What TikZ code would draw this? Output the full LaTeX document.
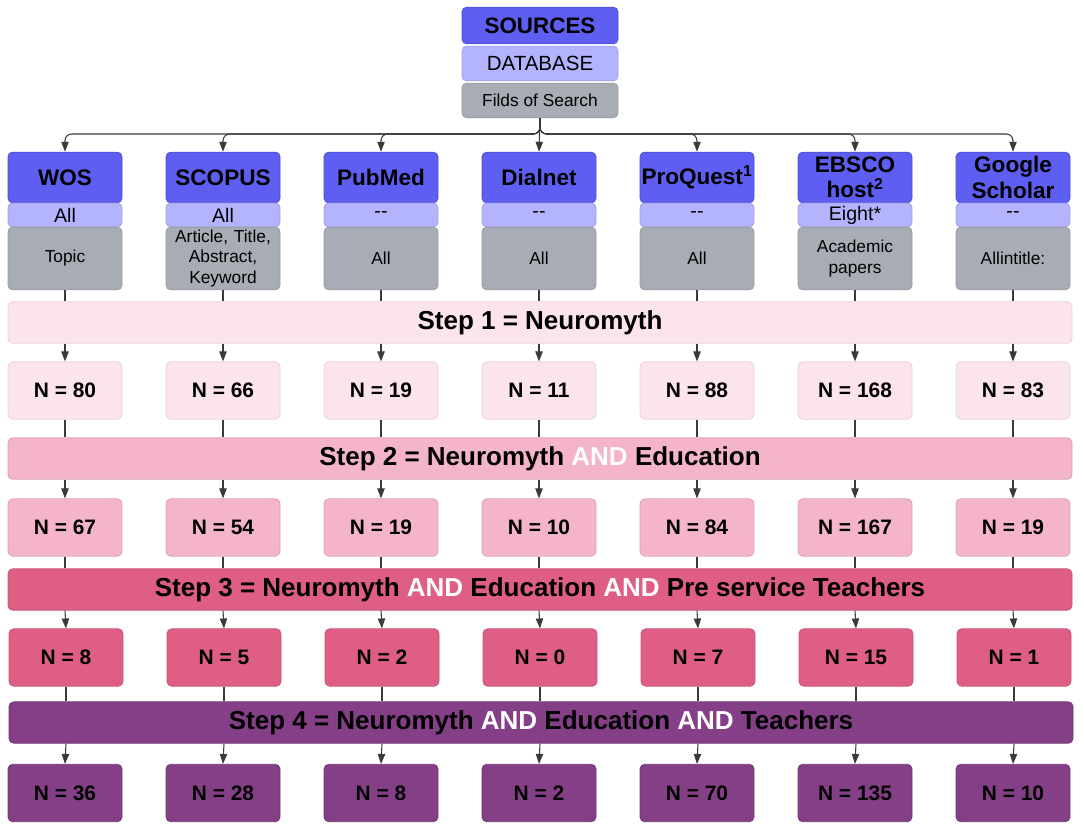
\documentclass[tikz,border=0pt]{standalone}
\usepackage{fontspec}
\setmainfont{Liberation Sans}
\usepackage{tikz}
\usetikzlibrary{arrows.meta,positioning}
\definecolor{srcblue}{HTML}{5E5EF2}
\definecolor{dbblue}{HTML}{B4B4FE}
\definecolor{fldgrey}{HTML}{A8ACB4}
\definecolor{pinkA}{HTML}{FCE4EC}
\definecolor{pinkB}{HTML}{F4B5C8}
\definecolor{roseC}{HTML}{DE5E84}
\definecolor{purpD}{HTML}{843F87}
\definecolor{linegrey}{HTML}{3A3A3A}
\newcommand{\andw}{\textcolor{white}{AND}}

\begin{document}
\begin{tikzpicture}[x=0.75pt,y=-0.75pt,>={Triangle[length=7.5pt,width=5.5pt]},semithick,
                    node distance=118.5pt,
                    every node/.style={inner sep=1pt}]
  \tikzstyle{box}=[rectangle,rounded corners=3.5pt,minimum width=85.5pt,align=center]
  \tikzstyle{head}=[box,fill=srcblue,draw=srcblue!85!black,minimum height=38pt,font=\fontsize{16.9}{19}\selectfont\bfseries]
  \tikzstyle{dbase}=[box,fill=dbblue,draw=dbblue!90!black,minimum height=18pt,font=\fontsize{14.7}{16}\selectfont]
  \tikzstyle{field}=[box,fill=fldgrey,draw=fldgrey!90!black,minimum height=47pt,text width=80pt,font=\fontsize{13}{15.5}\selectfont]
  \tikzstyle{count}=[box,minimum height=43pt,font=\fontsize{15.7}{18}\selectfont\bfseries]
  \tikzstyle{stepbar}=[rectangle,rounded corners=3.5pt,minimum width=798pt,minimum height=31pt,font=\fontsize{19.5}{22}\selectfont\bfseries]
  \tikzstyle{link}=[draw=linegrey,line width=0.8pt]

  \useasboundingbox (0,0) rectangle (1084,829);

  % sources
  \node[box,fill=srcblue,draw=srcblue!85!black,minimum width=117pt,minimum height=27.5pt,font=\fontsize{16.8}{18}\selectfont\bfseries] (src) at (540,25.5) {SOURCES};
  \node[box,fill=dbblue,draw=dbblue!90!black,minimum width=117pt,minimum height=26pt,font=\fontsize{15.4}{18}\selectfont] (db) at (540,63.5) {DATABASE};
  \node[box,fill=fldgrey,draw=fldgrey!90!black,minimum width=117pt,minimum height=26pt,font=\fontsize{13}{15}\selectfont] (fld) at (540,100.5) {Filds of Search};

  % databases
  \node[head] (wos) at (65,177.5) {WOS};
  \node[head] (sco) [right of=wos] {SCOPUS};
  \node[head] (pub) [right of=sco] {PubMed};
  \node[head] (dia) [right of=pub] {Dialnet};
  \node[head] (pro) [right of=dia] {ProQuest\textsuperscript{1}};
  \node[head] (ebs) [right of=pro] {EBSCO\\host\textsuperscript{2}};
  \node[head] (goo) [right of=ebs] {Google\\Scholar};

  \node[dbase] (wos-d) at (65,215) {All};
  \node[dbase] (sco-d) [right of=wos-d] {All};
  \node[dbase] (pub-d) [right of=sco-d] {-{}-};
  \node[dbase] (dia-d) [right of=pub-d] {-{}-};
  \node[dbase] (pro-d) [right of=dia-d] {-{}-};
  \node[dbase] (ebs-d) [right of=pro-d] {Eight*};
  \node[dbase] (goo-d) [right of=ebs-d] {-{}-};

  \node[field] (wos-f) at (65,258.5) {Topic};
  \node[field] (sco-f) [right of=wos-f] {Article, Title, Abstract, Keyword};
  \node[field] (pub-f) [right of=sco-f] {All};
  \node[field] (dia-f) [right of=pub-f] {All};
  \node[field] (pro-f) [right of=dia-f] {All};
  \node[field] (ebs-f) [right of=pro-f] {Academic\\papers};
  \node[field] (goo-f) [right of=ebs-f] {Allintitle:};

  % steps
  \node[stepbar,fill=pinkA,draw=pinkA!92!black] (st1) at (540,322.5) {Step 1 = Neuromyth};
  \node[stepbar,fill=pinkB,draw=pinkB!90!black] (st2) at (540,458.5) {Step 2 = Neuromyth \andw{} Education};
  \node[stepbar,fill=roseC,draw=roseC!90!black] (st3) at (540,589.5) {Step 3 = Neuromyth \andw{} Education \andw{} Pre service Teachers};
  \node[stepbar,fill=purpD,draw=purpD!85!black] (st4) at (541,722.5) {Step 4 = Neuromyth \andw{} Education \andw{} Teachers};

  \tikzstyle{c1}=[count,fill=pinkA,draw=pinkA!92!black]
  \node[c1] (wos-1) at (65,390.5) {N = 80};
  \node[c1] (sco-1) [right of=wos-1] {N = 66};
  \node[c1] (pub-1) [right of=sco-1] {N = 19};
  \node[c1] (dia-1) [right of=pub-1] {N = 11};
  \node[c1] (pro-1) [right of=dia-1] {N = 88};
  \node[c1] (ebs-1) [right of=pro-1] {N = 168};
  \node[c1] (goo-1) [right of=ebs-1] {N = 83};

  \tikzstyle{c2}=[count,fill=pinkB,draw=pinkB!90!black]
  \node[c2] (wos-2) at (65,527.5) {N = 67};
  \node[c2] (sco-2) [right of=wos-2] {N = 54};
  \node[c2] (pub-2) [right of=sco-2] {N = 19};
  \node[c2] (dia-2) [right of=pub-2] {N = 10};
  \node[c2] (pro-2) [right of=dia-2] {N = 84};
  \node[c2] (ebs-2) [right of=pro-2] {N = 167};
  \node[c2] (goo-2) [right of=ebs-2] {N = 19};

  \tikzstyle{c3}=[count,fill=roseC,draw=roseC!90!black]
  \node[c3] (wos-3) at (66,657.5) {N = 8};
  \node[c3] (sco-3) [right of=wos-3] {N = 5};
  \node[c3] (pub-3) [right of=sco-3] {N = 2};
  \node[c3] (dia-3) [right of=pub-3] {N = 0};
  \node[c3] (pro-3) [right of=dia-3] {N = 7};
  \node[c3] (ebs-3) [right of=pro-3] {N = 15};
  \node[c3] (goo-3) [right of=ebs-3] {N = 1};

  \tikzstyle{c4}=[count,fill=purpD,draw=purpD!85!black]
  \node[c4] (wos-4) at (65,793) {N = 36};
  \node[c4] (sco-4) [right of=wos-4] {N = 28};
  \node[c4] (pub-4) [right of=sco-4] {N = 8};
  \node[c4] (dia-4) [right of=pub-4] {N = 2};
  \node[c4] (pro-4) [right of=dia-4] {N = 70};
  \node[c4] (ebs-4) [right of=pro-4] {N = 135};
  \node[c4] (goo-4) [right of=ebs-4] {N = 10};

  % connectors
  \coordinate (j) at (540,134);
  \draw[link,->] (fld.south) -- (dia.north);
  \foreach \c in {wos,sco,pub,pro,ebs,goo}
    \draw[link,->,rounded corners=5pt] (fld.south) -- (j) -| (\c.north);

  \foreach \c in {wos,sco,pub,dia,pro,ebs,goo}{
    \draw[link] (\c-f.south) -- (\c-f.south |- st1.north);
    \draw[link,->] (\c-f.south |- st1.south) -- (\c-1.north);
    \draw[link] (\c-1.south) -- (\c-1.south |- st2.north);
    \draw[link,->] (\c-1.south |- st2.south) -- (\c-2.north);
    \draw[link] (\c-2.south) -- (\c-2.south |- st3.north);
    \draw[link,->] (\c-2.south |- st3.south) -- (\c-3.north);
    \draw[link] (\c-3.south) -- (\c-3.south |- st4.north);
    \draw[link,->] (\c-3.south |- st4.south) -- (\c-4.north);
  }
\end{tikzpicture}
\end{document}
